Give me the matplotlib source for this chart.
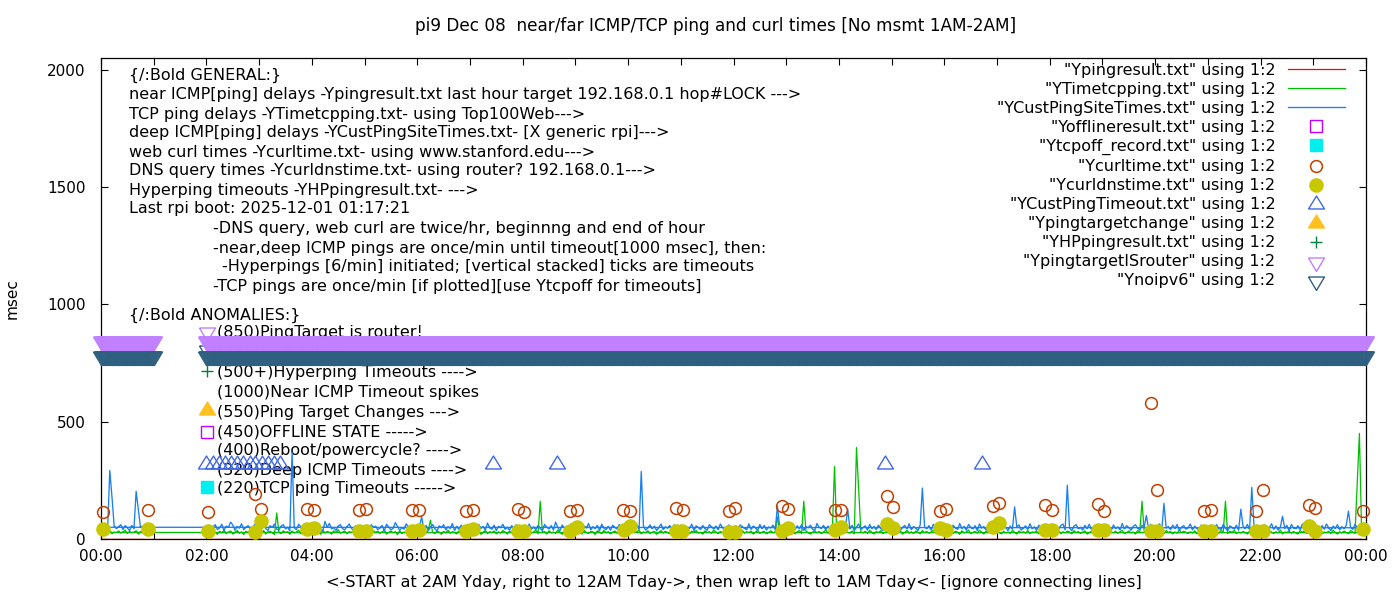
import numpy as np
import matplotlib
matplotlib.use("Agg")
import matplotlib.pyplot as plt
from matplotlib.ticker import MultipleLocator, FuncFormatter

plt.rcParams['font.family'] = ['DejaVu Sans']
plt.rcParams['font.size'] = 11.5

# time axis in hours; file order is 2AM yesterday -> midnight, then wraps to 0:00-0:50 today
t_day = np.arange(120, 1440, 2.5) / 60.0
t_wrap = np.arange(0, 52.5, 2.5) / 60.0
t_all = np.concatenate([t_day, t_wrap])

# YCustPingSiteTimes.txt (deep ICMP), one row per hour, 2.5 min samples
deep_ms = [
    44, 58, 38, 52, 61, 40, 47, 63, 36, 55, 49, 72, 60, 37, 53, 46, 65, 39, 50, 57, 41, 48, 62, 35,    # 02
    51, 39, 60, 45, 36, 57, 49, 64, 42, 38, 55, 61, 43, 50, 34, 370, 47, 40, 63, 52, 37, 56, 45, 59,   # 03
    38, 62, 47, 54, 41, 35, 75, 50, 66, 43, 48, 37, 56, 61, 44, 39, 53, 64, 46, 36, 58, 42, 51, 47,    # 04
    57, 43, 36, 61, 49, 55, 40, 46, 58, 34, 63, 51, 39, 45, 70, 54, 37, 48, 42, 65, 50, 38, 55, 44,    # 05
    46, 53, 95, 40, 58, 37, 49, 62, 44, 35, 56, 48, 61, 39, 52, 45, 66, 36, 54, 41, 59, 47, 38, 63,    # 06
    40, 56, 49, 35, 62, 45, 53, 38, 68, 47, 42, 59, 36, 54, 48, 63, 41, 50, 37, 57, 44, 61, 39, 52,    # 07
    55, 37, 48, 64, 42, 51, 39, 58, 45, 36, 62, 50, 43, 57, 38, 72, 49, 35, 60, 46, 53, 40, 65, 44,    # 08
    48, 61, 42, 36, 55, 47, 66, 39, 52, 44, 58, 35, 63, 46, 40, 54, 37, 59, 49, 43, 62, 38, 51, 56,    # 09
    36, 50, 59, 45, 62, 41, 288, 54, 38, 47, 60, 43, 55, 36, 49, 64, 40, 52, 46, 58, 35, 61, 44, 50,   # 10
    59, 42, 51, 38, 47, 63, 36, 56, 49, 40, 58, 45, 37, 61, 52, 43, 55, 39, 64, 48, 41, 53, 60, 37,    # 11
    43, 57, 35, 60, 52, 46, 39, 65, 41, 55, 48, 36, 62, 44, 58, 38, 51, 47, 59, 40, 140, 54, 37, 49,   # 12
    52, 38, 63, 47, 40, 56, 44, 61, 36, 53, 48, 59, 42, 37, 66, 50, 45, 58, 39, 55, 43, 62, 47, 36,    # 13
    47, 60, 39, 54, 127, 43, 58, 36, 51, 64, 41, 49, 56, 38, 62, 45, 53, 40, 59, 46, 35, 57, 48, 61,   # 14
    39, 55, 46, 62, 37, 50, 58, 43, 65, 40, 53, 47, 36, 60, 217, 52, 44, 57, 38, 63, 49, 42, 56, 45,   # 15
    61, 44, 52, 37, 59, 48, 41, 66, 45, 54, 38, 62, 50, 43, 57, 36, 64, 47, 53, 39, 58, 46, 40, 55,    # 16
    45, 58, 40, 63, 49, 36, 55, 42, 137, 51, 60, 38, 47, 56, 41, 65, 44, 52, 37, 59, 48, 62, 43, 50,   # 17
    53, 37, 60, 46, 42, 57, 64, 39, 229, 48, 35, 55, 61, 44, 50, 38, 58, 45, 63, 40, 54, 47, 36, 59,   # 18
    41, 62, 48, 55, 36, 60, 45, 52, 39, 66, 43, 57, 49, 37, 54, 61, 46, 40, 58, 51, 100, 44, 63, 38,   # 19
    56, 43, 65, 38, 152, 47, 53, 40, 59, 45, 62, 36, 51, 57, 42, 48, 64, 39, 55, 46, 37, 60, 50, 44,   # 20
    49, 58, 37, 52, 61, 44, 40, 63, 47, 35, 56, 50, 42, 59, 38, 127, 54, 45, 62, 41, 220, 53, 39, 57,  # 21
    37, 54, 60, 43, 49, 65, 41, 56, 38, 51, 97, 46, 58, 35, 62, 48, 44, 57, 40, 64, 47, 52, 36, 59,    # 22
    60, 45, 51, 38, 57, 42, 64, 48, 36, 55, 46, 61, 39, 53, 44, 58, 119, 50, 41, 63, 47, 37, 56, 48,   # 23
    50, 45, 60, 38, 292, 178, 55, 44, 52, 61, 40, 57, 47, 36, 58, 43, 203, 126, 49, 54, 47,            # 00 today
]

# YTimetcpping.txt (TCP ping)
tcp_ms = [
    26, 31, 22, 35, 28, 20, 33, 25, 38, 23, 29, 34, 21, 27, 36, 24, 30, 19, 32, 27, 37, 22, 28, 25,    # 02
    30, 24, 36, 21, 29, 33, 26, 19, 111, 28, 23, 35, 27, 31, 20, 34, 25, 29, 38, 22, 30, 26, 33, 24,   # 03
    23, 34, 27, 30, 20, 37, 25, 32, 28, 21, 35, 26, 40, 24, 29, 33, 22, 31, 27, 36, 19, 28, 34, 25,    # 04
    32, 25, 29, 22, 36, 27, 33, 24, 30, 38, 21, 28, 34, 26, 31, 19, 35, 23, 29, 27, 33, 22, 37, 26,    # 05
    27, 33, 21, 30, 25, 36, 80, 28, 23, 34, 29, 20, 32, 26, 38, 24, 31, 27, 22, 35, 28, 30, 25, 33,    # 06
    24, 29, 35, 26, 32, 20, 28, 37, 23, 31, 27, 34, 22, 30, 25, 36, 29, 21, 33, 26, 39, 24, 31, 28,    # 07
    31, 22, 28, 34, 25, 30, 37, 23, 161, 27, 32, 21, 35, 26, 29, 24, 38, 28, 20, 33, 27, 31, 23, 36,   # 08
    25, 34, 29, 21, 36, 27, 24, 32, 30, 19, 35, 28, 23, 37, 26, 31, 22, 29, 34, 25, 30, 36, 21, 27,    # 09
    29, 23, 33, 27, 31, 38, 22, 30, 26, 35, 24, 29, 32, 20, 28, 36, 25, 33, 27, 22, 31, 26, 37, 24,    # 10
    34, 27, 24, 30, 22, 33, 29, 36, 25, 28, 21, 35, 27, 31, 24, 38, 30, 23, 32, 26, 29, 34, 22, 28,    # 11
    26, 32, 28, 23, 37, 25, 31, 27, 34, 21, 30, 36, 24, 29, 33, 22, 28, 35, 26, 31, 95, 27, 30, 23,    # 12
    30, 25, 34, 28, 22, 31, 36, 24, 161, 33, 27, 21, 29, 35, 26, 32, 23, 30, 38, 25, 28, 34, 309, 27,  # 13
    27, 36, 23, 31, 29, 25, 34, 22, 390, 212, 30, 26, 33, 24, 37, 28, 21, 32, 27, 35, 23, 29, 31, 26,  # 14
    33, 24, 30, 26, 35, 21, 28, 37, 25, 31, 23, 34, 29, 22, 36, 27, 32, 25, 30, 38, 24, 28, 33, 20,    # 15
    22, 31, 27, 36, 24, 33, 29, 20, 35, 26, 30, 38, 23, 28, 32, 25, 37, 29, 21, 34, 27, 31, 24, 30,    # 16
    35, 28, 22, 33, 26, 30, 24, 37, 29, 21, 34, 27, 31, 25, 36, 23, 30, 28, 33, 22, 38, 26, 29, 32,    # 17
    28, 33, 25, 29, 38, 23, 31, 26, 34, 30, 22, 36, 27, 32, 24, 29, 35, 21, 28, 33, 26, 31, 37, 24,    # 18
    24, 30, 35, 22, 29, 27, 33, 25, 31, 37, 23, 28, 34, 26, 30, 21, 36, 29, 161, 32, 25, 28, 33, 27,   # 19
    31, 26, 29, 34, 23, 36, 28, 32, 22, 30, 25, 38, 27, 33, 29, 24, 31, 26, 35, 22, 30, 34, 27, 29,    # 20
    27, 34, 22, 31, 28, 25, 36, 30, 161, 24, 33, 29, 37, 23, 30, 26, 32, 28, 21, 35, 27, 31, 24, 33,   # 21
    30, 23, 33, 27, 36, 29, 24, 31, 26, 38, 22, 30, 28, 34, 25, 32, 27, 21, 36, 29, 33, 24, 31, 26,    # 22
    25, 32, 28, 35, 22, 30, 27, 33, 24, 37, 29, 21, 31, 26, 34, 28, 23, 36, 30, 25, 240, 450, 29, 27,  # 23
    28, 33, 24, 31, 36, 22, 29, 27, 34, 25, 30, 38, 23, 32, 26, 29, 35, 21, 31, 27, 30,                # 00 today
]

# Ypingresult.txt (near ICMP), sits on the x axis
near_t = [2, 4, 6, 8, 10, 12, 14, 16, 18, 20, 22, 23.9, 0, 0.8]
near_ms = [0.3, 0.3, 0.3, 0.3, 0.3, 0.3, 0.3, 0.3, 0.3, 0.3, 0.3, 0.3, 0.3, 0.3]

# Ycurltime.txt
curl_t = [0.03, 0.90, 2.03, 2.92, 3.03, 3.90, 4.04, 4.90, 5.02, 5.90, 6.03, 6.92, 7.05,
          7.92, 8.03, 8.90, 9.03, 9.91, 10.03, 10.91, 11.04, 11.91, 12.02, 12.92, 13.03,
          13.92, 14.04, 14.92, 15.02, 15.92, 16.04, 16.93, 17.04, 17.91, 18.05, 18.92,
          19.03, 19.93, 20.04, 20.92, 21.05, 21.91, 22.04, 22.92, 23.03, 23.94]
curl_ms = [115, 123, 115, 190, 127, 127, 123, 123, 127, 123, 123, 119, 123,
           127, 115, 119, 123, 123, 119, 133, 123, 119, 133, 140, 127,
           123, 123, 182, 137, 119, 128, 140, 152, 144, 123, 148,
           119, 580, 208, 119, 123, 119, 208, 144, 131, 119]

# Ycurldnstime.txt
dns_t = [0.03, 0.90, 2.03, 2.92, 3.03, 3.90, 4.04, 4.90, 5.02, 5.90, 6.03, 6.92, 7.05,
         7.92, 8.03, 8.90, 9.03, 9.93, 10.03, 10.90, 11.03, 11.91, 12.02, 12.92, 13.03,
         13.92, 14.04, 14.92, 15.02, 15.92, 16.04, 16.93, 17.04, 17.91, 18.05, 18.92,
         19.03, 19.93, 20.04, 20.92, 21.05, 21.91, 22.04, 22.92, 23.03, 23.94]
dns_ms = [42, 42, 34, 30, 76, 42, 47, 34, 34, 34, 38, 34, 42,
          34, 34, 34, 52, 38, 56, 34, 34, 30, 30, 34, 45,
          38, 50, 64, 47, 47, 38, 52, 68, 38, 40, 38,
          38, 34, 34, 34, 34, 34, 34, 56, 34, 42]

# YCustPingTimeout.txt
cto_t = [2.00, 2.12, 2.23, 2.35, 2.47, 2.58, 2.70, 2.82, 2.93, 3.05, 3.17, 3.28, 3.40,
         7.44, 8.65, 14.88, 16.72]
cto_ms = [320] * len(cto_t)

# files with no points today
offline_t, offline_ms = [], []
tcpoff_t, tcpoff_ms = [], []
tchange_t, tchange_ms = [], []
hp_t, hp_ms = [], []

# YpingtargetISrouter / Ynoipv6: one record per minute
band_t = np.concatenate([np.arange(0, 61), np.arange(120, 1441)]) / 60.0
router_ms = [850] * len(band_t)
noipv6_ms = [785] * len(band_t)

# gnuplot-ish triangle shapes (centred on the point, not on the box)
tri_dn = [(-8, 3.5), (8, 3.5), (0, -10), (-8, 3.5)]
tri_up = [(-8, -4.5), (8, -4.5), (0, 8.5), (-8, -4.5)]

fig = plt.figure(figsize=(14, 6), dpi=100)
ax = fig.add_axes([101 / 1400, 1 - 539 / 600, 1265 / 1400, 481 / 600])


def axf(px, py):
    return (px - 101) / 1265, (539 - py) / 481


ax.plot(near_t, near_ms, color='#ff0000', lw=0.9, zorder=1.5,
        label='"Ypingresult.txt" using 1:2')
ax.plot(t_all, tcp_ms, color='#00c000', lw=0.9, zorder=2,
        label='"YTimetcpping.txt" using 1:2')
ax.plot(t_all, deep_ms, color='#1a80f0', lw=0.95, zorder=2.1,
        label='"YCustPingSiteTimes.txt" using 1:2')
ax.plot(offline_t, offline_ms, ls='none', marker='s', ms=9, mfc='none', mec='#c000ff',
        mew=1, label='"Yofflineresult.txt" using 1:2')
ax.plot(tcpoff_t, tcpoff_ms, ls='none', marker='s', ms=9, mfc='#00eeee', mec='#00eeee',
        label='"Ytcpoff_record.txt" using 1:2')
ax.plot(curl_t, curl_ms, ls='none', marker='o', ms=8.5, mfc='none', mec='#c04000',
        mew=1.1, zorder=3, clip_on=False, label='"Ycurltime.txt" using 1:2')
ax.plot(dns_t, dns_ms, ls='none', marker='o', ms=9.5, mfc='#c8c800', mec='#c8c800',
        zorder=3, clip_on=False, label='"Ycurldnstime.txt" using 1:2')
ax.plot(cto_t, cto_ms, ls='none', marker=tri_up, ms=12.2, mfc='none', mec='#4169e1',
        mew=1, zorder=3, clip_on=False, label='"YCustPingTimeout.txt" using 1:2')
ax.plot(tchange_t, tchange_ms, ls='none', marker=tri_up, ms=12.2, mfc='#ffc020',
        mec='#ffc020', label='"Ypingtargetchange" using 1:2')
ax.plot(hp_t, hp_ms, ls='none', marker='+', ms=9, mec='#008040', mew=1,
        label='"YHPpingresult.txt" using 1:2')
ax.plot(band_t, router_ms, ls='none', marker=tri_dn, ms=14.4, mfc='none', mec='#c080ff',
        mew=1, zorder=4, clip_on=False, label='"YpingtargetISrouter" using 1:2')
ax.plot(band_t, noipv6_ms, ls='none', marker=tri_dn, ms=14.4, mfc='none', mec='#306080',
        mew=1, zorder=4, clip_on=False, label='"Ynoipv6" using 1:2')

ax.set_xlim(0, 24)
ax.set_ylim(0, 2050)
ax.xaxis.set_major_locator(MultipleLocator(2))
ax.xaxis.set_minor_locator(MultipleLocator(1))
ax.xaxis.set_major_formatter(FuncFormatter(lambda v, p: '%02d:00' % (int(round(v)) % 24)))
ax.yaxis.set_major_locator(MultipleLocator(500))
ax.tick_params(which='both', direction='in', length=5, width=0.8, top=True, right=True,
               labelsize=11)
ax.tick_params(axis='x', pad=7)
ax.tick_params(axis='y', pad=11)
for s in ax.spines.values():
    s.set_linewidth(0.9)

ax.set_xlabel('<-START at 2AM Yday, right to 12AM Tday->, then wrap left to 1AM Tday<- '
              '[ignore connecting lines]', va='center', fontsize=11.6)
ax.xaxis.set_label_coords(0.5, axf(0, 583)[1])
ax.set_ylabel('msec', va='center', fontsize=11)
ax.yaxis.set_label_coords(axf(12, 0)[0], 0.5)
ax.set_title('pi9 Dec 08  near/far ICMP/TCP ping and curl times [No msmt 1AM-2AM]',
             x=axf(716, 0)[0], y=axf(0, 26)[1], va='center', pad=0, fontsize=12.2)

# notes block
general = [
    (129, 75, '{/:Bold GENERAL:}'),
    (129, 95, 'near ICMP[ping] delays -Ypingresult.txt last hour target 192.168.0.1 hop#LOCK --->'),
    (129, 114, 'TCP ping delays -YTimetcpping.txt- using Top100Web--->'),
    (129, 133, 'deep ICMP[ping] delays -YCustPingSiteTimes.txt- [X generic rpi]--->'),
    (129, 152, 'web curl times -Ycurltime.txt- using www.stanford.edu--->'),
    (129, 171, 'DNS query times -Ycurldnstime.txt- using router? 192.168.0.1--->'),
    (129, 190, 'Hyperping timeouts -YHPpingresult.txt- --->'),
    (129, 209, 'Last rpi boot: 2025-12-01 01:17:21'),
    (213, 229, '-DNS query, web curl are twice/hr, beginnng and end of hour'),
    (213, 248, '-near,deep ICMP pings are once/min until timeout[1000 msec], then:'),
    (222, 267, '-Hyperpings [6/min] initiated; [vertical stacked] ticks are timeouts'),
    (213, 286, '-TCP pings are once/min [if plotted][use Ytcpoff for timeouts]'),
    (129, 315, '{/:Bold ANOMALIES:}'),
]
for px, py, s in general:
    ax.text(*axf(px, py), s, transform=ax.transAxes, va='center', ha='left', zorder=1)

anomalies = [
    (333, '(850)PingTarget is router!'),
    (352, '(785)Ipv6 failed'),
    (373, '(500+)Hyperping Timeouts ---->'),
    (392, '(1000)Near ICMP Timeout spikes'),
    (412, '(550)Ping Target Changes --->'),
    (432, '(450)OFFLINE STATE ----->'),
    (451, '(400)Reboot/powercycle? ---->'),
    (470, '(320)Deep ICMP Timeouts ---->'),
    (489, '(220)TCP ping Timeouts ----->'),
]
for py, s in anomalies:
    ax.text(*axf(217, py), s, transform=ax.transAxes, va='center', ha='left', zorder=1)

# key points in front of the anomaly notes
keys = [
    (331, dict(marker=tri_dn, ms=14.4, mfc='none', mec='#c080ff', mew=1)),
    (349, dict(marker=tri_dn, ms=14.4, mfc='none', mec='#306080', mew=1)),
    (371, dict(marker='+', ms=9, mec='#008040', mew=1)),
    (410, dict(marker=tri_up, ms=12.2, mfc='#ffc020', mec='#ffc020')),
    (432, dict(marker='s', ms=9, mfc='none', mec='#c000ff', mew=1)),
    (487, dict(marker='s', ms=9, mfc='#00eeee', mec='#00eeee')),
]
for py, kw in keys:
    ax.plot(*axf(207, py), transform=ax.transAxes, ls='none', zorder=1.2, **kw)

leg = ax.legend(loc='upper right', bbox_to_anchor=axf(1345, 63), frameon=False,
                markerfirst=False, borderaxespad=0, borderpad=0, handlelength=3.6,
                handletextpad=0.75, labelspacing=0.25, numpoints=1, fontsize=11.5)
leg.set_zorder(6)

fig.savefig('out.png', dpi=100)
